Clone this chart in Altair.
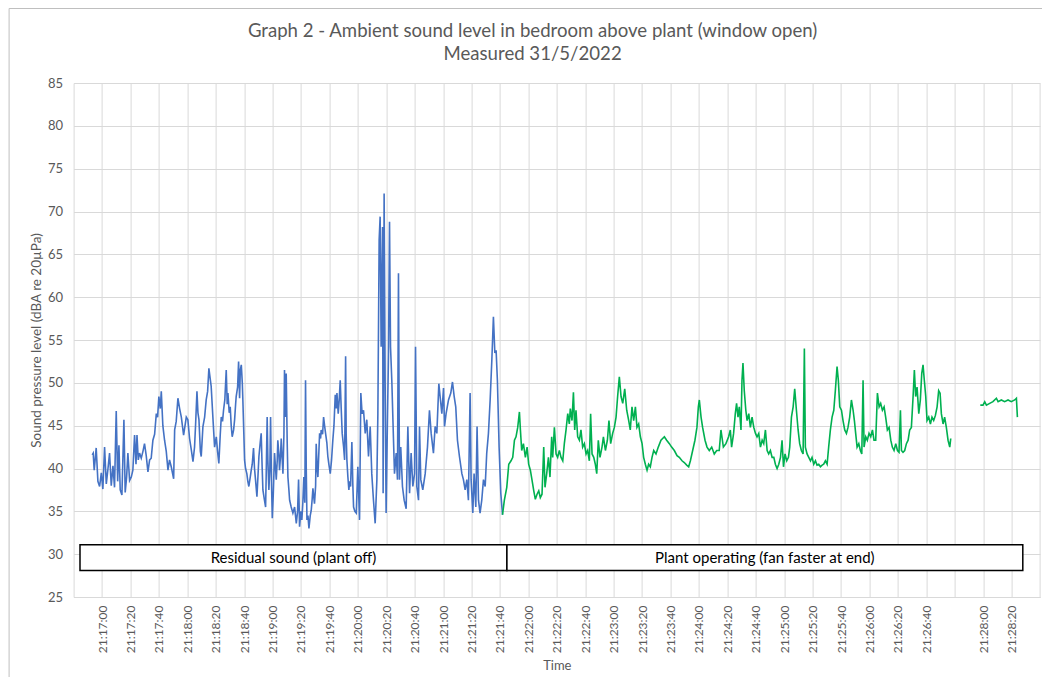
import altair as alt
import pandas as pd

# ---- data (time in seconds after 21:16:40 on the category scale) ----
residual_t = [13.1, 13.8, 14.5, 15.9, 17.1, 18.3, 19.5, 20.6, 21.8, 23.0, 24.2, 25.3, 26.5, 27.7, 28.8,
              30.0, 31.0, 31.9, 32.8, 34.0, 35.4, 36.3, 37.3, 38.2, 39.4, 40.6, 41.7, 42.9, 43.9, 44.6,
              45.5, 46.4, 47.6, 48.8, 49.9, 51.1, 52.3, 53.5, 54.6, 55.8, 57.0, 58.2, 59.1, 60.0, 61.0,
              61.7, 62.8, 64.0, 65.2, 66.4, 67.5, 68.7, 70.4, 71.1, 72.2, 73.4, 74.6, 75.8, 77.4, 79.3,
              80.4, 81.6, 82.8, 84.0, 85.1, 85.8, 86.8, 87.5, 88.2, 89.2, 89.8, 91.0, 92.2, 93.3, 94.3,
              95.2, 96.1, 96.8, 98.0, 99.2, 100.4, 101.3, 102.2, 103.2, 103.9, 104.8, 105.5, 106.4, 107.4,
              108.1, 108.6, 109.5, 110.2, 110.9, 111.6, 112.6, 113.3, 114.0, 114.4, 115.4, 116.1, 116.8,
              117.3, 118.0, 118.7, 119.1, 119.8, 120.3, 121.0, 121.9, 122.6, 123.3, 124.3, 125.0, 125.7,
              126.6, 127.3, 128.0, 129.0, 129.7, 130.4, 131.3, 132.0, 132.7, 133.2, 134.1, 135.1, 135.5,
              136.2, 136.7, 137.4, 138.1, 138.6, 139.3, 139.8, 140.5, 141.4, 142.1, 142.6, 143.3, 143.7,
              144.5, 144.9, 145.6, 146.1, 146.8, 147.3, 148.0, 148.4, 148.9, 149.6, 150.3, 150.8, 151.5,
              152.0, 153.1, 154.3, 155.5, 156.7, 157.6, 158.3, 159.0, 159.9, 160.6, 161.3, 162.0, 162.7,
              163.2, 163.7, 164.2, 164.9, 165.6, 166.5, 167.2, 167.9, 168.4, 169.1, 169.5, 170.3, 170.7,
              171.4, 171.9, 172.6, 173.1, 173.8, 174.2, 175.2, 175.9, 176.6, 177.3, 178.2, 178.9, 179.6,
              180.6, 181.5, 182.4, 183.2, 184.1, 184.8, 185.3, 186.2, 186.9, 187.6, 188.3, 189.0, 190.0,
              190.7, 191.4, 191.8, 192.3, 193.0, 193.7, 194.2, 194.9, 195.8, 196.5, 197.0, 197.9, 198.9,
              200.0, 201.2, 202.1, 203.0, 204.0, 205.2, 206.3, 207.5, 208.7, 209.8, 211.0, 212.2, 213.4,
              214.1, 215.0, 215.7, 216.4, 217.4, 217.8, 218.5, 219.2, 219.9, 220.9, 221.6, 222.3, 223.0,
              223.9, 225.1, 225.8, 227.0, 227.9, 228.6, 229.3, 230.2, 231.4, 232.6, 234.0, 235.2, 236.4,
              237.5, 238.7, 239.9, 240.6, 241.5, 242.7, 243.4, 244.3, 245.7, 247.4, 249.0, 250.4, 251.6,
              253.2, 254.4, 255.6, 257.0, 257.9, 259.1, 260.3, 261.0, 262.1, 263.8, 265.4, 266.6, 267.8,
              268.9, 270.1, 271.5, 273.2, 274.3, 275.5, 276.7, 277.8, 279.0, 279.7, 280.9, 281.8, 283.0,
              283.9, 284.9, 286.0, 287.2, 288.4, 289.6, 290.7, 291.9, 293.1, 294.3, 295.4, 296.4, 297.3,
              298.2, 299.4, 300.6, 301.8]
residual_v = [41.6, 41.8, 39.8, 42.4, 38.5, 37.9, 39.5, 37.6, 42.5, 38.2, 40.0, 41.8, 38.0, 40.3, 37.8,
              46.7, 38.5, 42.7, 37.5, 36.9, 45.7, 37.2, 39.0, 41.8, 38.6, 39.0, 39.8, 43.9, 40.5, 43.9,
              41.0, 41.8, 41.2, 42.0, 42.9, 41.5, 39.6, 41.0, 41.2, 43.3, 44.0, 46.4, 46.0, 48.4, 47.0,
              49.0, 45.0, 43.3, 42.0, 39.8, 41.0, 40.2, 38.8, 44.5, 45.5, 48.2, 47.0, 46.0, 43.9, 46.0,
              45.7, 43.5, 42.2, 40.8, 42.5, 45.0, 49.0, 46.5, 45.7, 42.0, 41.4, 44.9, 46.0, 48.0, 49.0,
              51.7, 50.5, 49.6, 46.0, 42.5, 43.7, 42.0, 40.6, 44.0, 46.0, 45.5, 46.8, 48.0, 51.5,
              47.5, 48.8, 46.5, 47.2, 45.0, 43.7, 44.5, 45.7, 47.5, 48.4, 49.5, 52.5, 48.2,
              51.5, 52.1, 50.0, 48.0, 44.0, 41.0, 40.0, 39.4, 38.5, 37.9, 39.0, 39.8, 40.5,
              42.4, 40.0, 38.7, 36.7, 39.0, 41.4, 43.0, 44.1, 40.0, 37.5, 36.5, 35.5, 39.0,
              46.0, 41.0, 37.5, 40.0, 46.0, 38.0, 34.2, 37.0, 41.8, 40.0, 38.7, 41.0, 43.3,
              41.5, 39.8, 41.5, 43.5, 41.0, 39.4, 44.0, 51.5, 46.0, 51.1, 43.0, 39.0, 37.5,
              36.3, 35.5, 34.8, 35.5, 33.6, 35.0, 38.7, 33.2, 35.0, 34.0, 36.0, 39.0, 36.0,
              50.3, 40.0, 34.0, 34.5, 33.0, 34.5, 35.1, 36.5, 37.7, 36.5, 35.9, 38.0, 42.9,
              40.0, 39.0, 42.0, 44.1, 43.5, 44.5, 44.0, 46.0, 45.0, 44.1, 43.0, 41.4, 40.5,
              39.4, 41.0, 43.3, 45.0, 48.6, 47.0, 48.8, 46.4, 48.0, 50.3, 47.0, 44.1, 42.5,
              41.0, 53.1, 44.0, 41.0, 39.0, 37.5, 38.5, 37.9, 43.1, 38.0, 35.5, 35.0, 34.8,
              40.2, 34.0, 48.8, 46.4, 46.8, 44.1, 45.7, 41.4, 44.9, 39.4, 36.3, 33.6, 38.7,
              46.4, 66.7, 69.4, 54.2, 68.2, 37.1, 72.1, 50.3, 34.8, 46.4, 53.5, 68.8, 54.2,
              50.3, 43.3, 39.4, 41.8, 38.7, 62.8, 38.7, 42.5, 37.9, 36.3, 35.3, 44.9, 37.1,
              41.8, 37.9, 39.4, 54.2, 37.9, 36.3, 44.9, 38.7, 37.5, 39.4, 42.5, 46.8, 44.1,
              41.8, 44.9, 44.1, 49.9, 48.4, 46.4, 49.4, 44.9, 46.4, 48.0, 48.8, 50.1, 48.4,
              47.2, 43.3, 41.4, 39.4, 38.7, 37.5, 38.7, 36.3, 48.8, 38.7, 34.8, 39.4, 35.5,
              44.9, 36.3, 34.8, 36.3, 38.7, 37.9, 41.8, 44.1, 48.0, 52.7, 57.7, 53.5, 53.8,
              50.3, 42.5, 37.1, 34.6]

plant_t = [301.8, 303.1, 304.8, 306.2, 307.8, 309.0, 310.2, 311.3, 312.5, 313.7, 314.4, 315.3, 316.5,
           317.9, 319.1, 320.2, 321.4, 322.6, 323.8, 324.9, 326.1, 327.3, 328.4, 329.6, 330.8, 331.7,
           332.9, 334.1, 335.2, 336.4, 337.1, 338.3, 339.5, 340.6, 341.8, 343.0, 344.2, 345.3, 346.5,
           347.7, 348.8, 349.5, 350.7, 351.7, 352.6, 353.5, 354.7, 355.9, 357.0, 358.2, 359.4, 360.6,
           361.7, 362.9, 363.8, 364.8, 366.0, 367.1, 368.1, 369.2, 370.4, 371.8, 372.8, 374.2, 375.6,
           376.7, 377.9, 379.3, 380.5, 381.7, 382.8, 384.0, 385.2, 386.4, 387.8, 389.2, 390.6, 391.7,
           392.9, 394.1, 395.3, 396.4, 397.6, 398.8, 400.0, 401.1, 402.3, 403.5, 404.6, 405.8, 407.0,
           408.2, 409.8, 411.4, 413.3, 415.7, 417.3, 419.2, 420.8, 422.7, 424.6, 426.2, 428.1, 429.7,
           431.4, 432.8, 434.0, 435.6, 437.2, 438.6, 439.6, 440.3, 441.5, 442.6, 444.3, 445.7, 447.3,
           449.0, 450.8, 452.5, 454.3, 455.5, 457.2, 459.0, 460.9, 462.1, 463.0, 464.4, 465.6, 466.5,
           467.5, 468.4, 469.6, 470.3, 471.0, 471.9, 473.0, 473.9, 475.1, 476.2, 477.4, 478.6, 479.8,
           480.9, 482.1, 483.3, 484.5, 485.6, 486.8, 488.0, 489.1, 490.3, 491.5, 492.7, 493.8, 495.0,
           496.2, 497.4, 498.5, 499.5, 500.6, 501.8, 503.0, 503.9, 505.1, 506.3, 507.4, 508.6, 509.8,
           510.9, 512.1, 513.3, 514.2, 514.9, 516.1, 517.3, 518.5, 519.6, 520.8, 522.0, 523.1, 524.3,
           525.5, 526.7, 527.8, 529.0, 530.2, 531.3, 532.5, 533.7, 534.9, 536.0, 537.2, 538.1, 539.1,
           540.3, 541.4, 542.6, 543.8, 544.9, 546.1, 547.3, 548.5, 549.4, 550.3, 551.3, 552.5, 553.6,
           554.6, 555.5, 556.2, 557.4, 558.5, 559.7, 560.9, 562.1, 563.2, 564.4, 565.6, 566.8, 567.9,
           569.1, 570.3, 571.4, 572.6, 573.8, 575.0, 576.1, 577.3, 578.5, 579.7, 580.8, 581.8, 582.5,
           583.6, 584.8, 586.0, 587.2, 588.3, 589.5, 590.7, 591.6, 592.5, 593.5, 594.7, 595.8, 596.8,
           597.7, 598.6, 599.6, 600.5, 601.7, 602.9, 604.0, 605.2, 606.4, 607.6, 608.7, 609.7, 610.6,
           611.8, 612.9, 614.1, 615.3, 616.5, 617.2]
plant_v = [34.6, 36.3, 37.8, 40.5, 40.9, 41.3, 43.3, 43.7, 44.8, 46.6, 44.5, 42.1, 42.9,
           41.3, 42.5, 40.5, 39.8, 38.6, 37.4, 36.4, 37.0, 37.4, 36.6, 37.0, 42.5, 37.8,
           39.4, 41.3, 39.0, 43.7, 41.3, 44.8, 41.7, 41.3, 42.1, 41.3, 40.9, 42.9, 44.5,
           46.4, 45.2, 47.0, 45.6, 48.9, 44.5, 46.8, 43.7, 43.3, 44.5, 42.5, 42.9, 41.7,
           42.1, 40.9, 46.4, 41.7, 41.3, 40.5, 39.4, 43.3, 41.3, 42.5, 43.7, 42.1, 43.3,
           45.6, 42.9, 44.1, 44.8, 46.0, 48.4, 50.7, 48.4, 47.6, 49.3, 46.8, 45.6, 44.5,
           47.2, 45.6, 47.2, 44.8, 45.2, 43.7, 42.9, 41.3, 40.5, 39.8, 40.5, 40.2, 41.3,
           42.1, 41.7, 42.5, 43.3, 43.7, 43.3, 42.9, 42.5, 42.1, 41.5, 41.3, 40.9, 40.7,
           40.4, 40.2, 40.9, 42.1, 43.3, 44.8, 47.2, 48.0, 46.0, 44.8, 43.3, 42.5, 42.1,
           42.5, 41.7, 42.1, 42.1, 44.5, 42.5, 42.9, 43.7, 44.5, 42.5, 44.1, 46.4, 47.6,
           46.0, 47.2, 44.5, 50.3, 52.3, 49.1, 46.8, 45.6, 46.4, 44.8, 46.0, 44.8, 44.1,
           43.7, 44.1, 42.5, 43.3, 42.9, 44.5, 42.1, 41.7, 42.1, 41.3, 41.3, 40.5, 40.0,
           40.5, 41.3, 43.3, 40.2, 41.7, 40.9, 41.3, 42.5, 46.0, 47.2, 49.3, 46.8, 44.5,
           42.9, 42.1, 41.7, 54.0, 42.5, 41.7, 41.3, 40.9, 41.3, 40.5, 40.9, 40.4, 40.5,
           40.2, 40.4, 40.5, 40.9, 40.5, 42.5, 44.5, 46.0, 46.8, 49.1, 51.9, 50.3, 47.2,
           46.8, 45.6, 44.5, 44.1, 44.8, 46.0, 48.0, 46.8, 45.6, 44.1, 42.5, 42.9, 42.1,
           41.7, 50.3, 42.5, 43.7, 43.3, 44.1, 43.7, 44.5, 43.3, 43.3, 48.8, 47.2, 47.6,
           46.8, 47.2, 46.0, 44.5, 44.8, 43.3, 42.5, 42.1, 42.9, 42.1, 41.9, 46.8, 42.1,
           41.9, 42.1, 42.9, 43.3, 44.5, 44.8, 48.4, 51.5, 48.4, 49.5, 46.4, 48.0, 51.1,
           52.1, 50.3, 48.4, 45.6, 46.0, 45.2, 46.0, 45.6, 46.2, 47.2, 49.1, 48.8, 46.4,
           45.2, 46.0, 44.8, 43.3, 42.5, 43.5]

fast_t = [638.0, 639.9, 641.1, 642.3, 644.6, 646.9, 649.3, 650.5, 652.8, 655.1, 657.5, 659.8, 662.2, 663.4, 664.1]
fast_v = [47.4, 47.4, 47.8, 47.4, 47.6, 47.8, 48.2, 47.8, 48.0, 47.8, 48.0, 47.8, 48.0, 48.2, 46.0]

tick_labels = ["", "21:17:00", "21:17:20", "21:17:40", "21:18:00", "21:18:20", "21:18:40", "21:19:00",
               "21:19:20", "21:19:40", "21:20:00", "21:20:20", "21:20:40", "21:21:00", "21:21:20",
               "21:21:40", "21:22:00", "21:22:20", "21:22:40", "21:23:00", "21:23:20", "21:23:40",
               "21:24:00", "21:24:20", "21:24:40", "21:25:00", "21:25:20", "21:25:40", "21:26:00",
               "21:26:20", "21:26:40", "", "21:28:00", "21:28:20", ""]

title_lines = ["Graph 2 - Ambient sound level in bedroom above plant (window open)", "Measured 31/5/2022"]

phase_names = ["Residual sound (plant off)", "Plant operating (fan faster at end)"]
phase_start = [4.5, 304.9]
phase_end = [304.9, 667.9]
phase_low = [28.1, 28.1]
phase_high = [31.1, 31.1]

# ---- build tables ----
rows = []
for t, v in zip(residual_t, residual_v):
    rows.append({"t": t, "v": v, "series": "Residual", "seg": "a"})
for t, v in zip(plant_t, plant_v):
    rows.append({"t": t, "v": v, "series": "Plant", "seg": "b"})
for t, v in zip(fast_t, fast_v):
    rows.append({"t": t, "v": v, "series": "Plant", "seg": "c"})
df = pd.DataFrame(rows)

phases = pd.DataFrame({"name": phase_names, "start": phase_start, "end": phase_end,
                       "low": phase_low, "high": phase_high})

FONT = "Lato"
GREY = "#595959"
GRID = "#D9D9D9"

label_expr = "[" + ",".join("'" + s + "'" for s in tick_labels) + "][round(datum.value / 20)]"

xscale = alt.Scale(domain=[0, 680], nice=False, zero=False)
yscale = alt.Scale(domain=[25, 85], nice=False, zero=False)

xaxis = alt.Axis(values=list(range(0, 681, 20)), tickCount=60, labelExpr=label_expr, labelAngle=270,
                 labelOverlap=False, labelFlush=False, grid=True, gridColor=GRID, ticks=False,
                 domainColor=GRID, labelFont=FONT, labelFontSize=12, labelColor=GREY, labelPadding=8,
                 title="Time", titleFont=FONT, titleFontSize=13, titleFontWeight="normal",
                 titleColor=GREY, titlePadding=7)
yaxis = alt.Axis(values=list(range(25, 86, 5)), tickCount=30, grid=True, gridColor=GRID, ticks=False,
                 domain=False, labelFont=FONT, labelFontSize=13, labelColor=GREY, labelPadding=11,
                 labelOverlap=False,
                 title="Sound pressure level (dBA re 20µPa)", titleFont=FONT, titleFontSize=13.5,
                 titleFontWeight="normal", titleColor=GREY, titlePadding=4)

lines = alt.Chart(df).mark_line(strokeWidth=1.6).encode(
    x=alt.X("t:Q", scale=xscale, axis=xaxis),
    y=alt.Y("v:Q", scale=yscale, axis=yaxis),
    color=alt.Color("series:N", scale=alt.Scale(domain=["Residual", "Plant"],
                                                range=["#4472C4", "#00B050"]), legend=None),
    detail="seg:N",
)

boxes = alt.Chart(phases).mark_rect(fill="white", stroke="black", strokeWidth=1.5).encode(
    x=alt.X("start:Q", scale=xscale),
    x2="end:Q",
    y=alt.Y("low:Q", scale=yscale),
    y2="high:Q",
)

box_text = alt.Chart(phases).transform_calculate(
    mid="(datum.start + datum.end) / 2", ymid="(datum.low + datum.high) / 2"
).mark_text(font=FONT, fontSize=15, color="black").encode(
    x=alt.X("mid:Q", scale=xscale),
    y=alt.Y("ymid:Q", scale=yscale),
    text="name:N",
)

border = alt.Chart(pd.DataFrame({"k": [0]})).mark_rect(
    fillOpacity=0, stroke="#BFBFBF", strokeWidth=1
).encode(
    x=alt.value(-64.5), x2=alt.value(1100), y=alt.value(-74.5), y2=alt.value(800)
)

title1 = alt.Chart(pd.DataFrame({"s": [title_lines[0]]})).mark_text(
    font=FONT, fontSize=18.6, color=GREY, baseline="middle"
).encode(x=alt.value(459), y=alt.value(-52.5), text="s:N")
title2 = alt.Chart(pd.DataFrame({"s": [title_lines[1]]})).mark_text(
    font=FONT, fontSize=18.6, color=GREY, baseline="middle"
).encode(x=alt.value(459), y=alt.value(-29.5), text="s:N")

chart = alt.layer(lines, boxes, box_text, border, title1, title2).properties(
    width=966.4,
    height=514,
    padding={"left": 65.6, "top": 75, "right": 2, "bottom": 80},
    autosize=alt.AutoSizeParams(type="none"),
).configure_view(stroke=None)

chart.save("out.html", embed_options={"renderer": "svg", "actions": False})
